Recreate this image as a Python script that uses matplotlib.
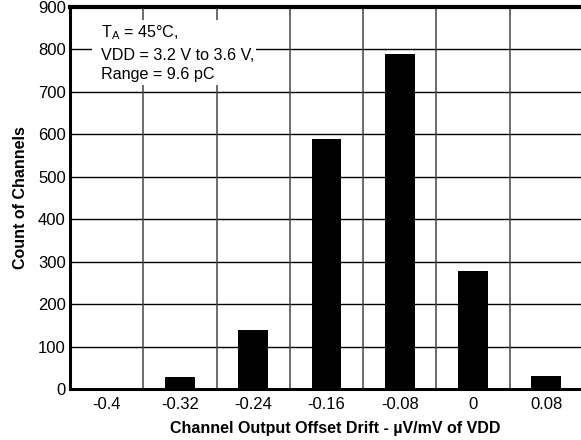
import matplotlib
matplotlib.use("Agg")
import matplotlib.pyplot as plt
from matplotlib.patches import Rectangle

plt.rcParams['font.family'] = ['Liberation Sans', 'DejaVu Sans']

categories = [-0.4, -0.32, -0.24, -0.16, -0.08, 0.0, 0.08]
tick_labels = ["-0.4", "-0.32", "-0.24", "-0.16", "-0.08", "0", "0.08"]
counts = [0, 28, 140, 588, 790, 277, 30]
y_ticks = [0, 100, 200, 300, 400, 500, 600, 700, 800, 900]

W, H = 581, 440
fig = plt.figure(figsize=(W / 100, H / 100), dpi=100)
left, right, top, bottom = 70, 583, 7, 389
ax = fig.add_axes([left / W, 1 - bottom / H, (right - left) / W, (bottom - top) / H])

step = 0.08
ax.set_xlim(categories[0] - step / 2, categories[-1] + step / 2)
ax.set_ylim(0, 900)

# grid
for y in y_ticks[1:]:
    ax.axhline(y, color='black', lw=1.0, zorder=1)
for i in range(len(categories) - 1):
    ax.axvline((categories[i] + categories[i + 1]) / 2, color='#444444', lw=1.1, zorder=1)

ax.bar(categories, counts, width=0.0325, color='black', zorder=3)

ax.set_xticks(categories)
ax.set_xticklabels(tick_labels, fontsize=12)
ax.set_yticks(y_ticks)
ax.set_yticklabels([str(v) for v in y_ticks], fontsize=12)
ax.tick_params(length=0, pad=3)
ax.tick_params(axis='x', pad=6)

for s in ['left', 'bottom']:
    ax.spines[s].set_linewidth(2.2)
ax.spines['top'].set_linewidth(3)
ax.spines['right'].set_visible(False)
for s in ax.spines.values():
    s.set_zorder(5)

ax.set_xlabel("Channel Output Offset Drift - \u00b5V/mV of VDD", fontsize=11.5,
              fontweight='bold', labelpad=6)
ax.xaxis.label.set_x(0.517)
ax.set_ylabel("Count of Channels", fontsize=11.5, fontweight='bold', labelpad=7)

# annotation box (white, covering grid)
bx0, by0, bx1, by1 = 92, 20, 256, 85
ax.add_patch(Rectangle((bx0 / W, 1 - by1 / H), (bx1 - bx0) / W, (by1 - by0) / H,
                       transform=fig.transFigure, facecolor='white', edgecolor='none',
                       zorder=4))
fig.text(101 / W, 1 - 33 / H, r"T$_\mathregular{A}$ = 45°C,", fontsize=11.6,
         va='center', ha='left', zorder=6)
fig.text(101 / W, 1 - 56 / H, "VDD = 3.2 V to 3.6 V,", fontsize=11.6,
         va='center', ha='left', zorder=6)
fig.text(101 / W, 1 - 74 / H, "Range = 9.6 pC", fontsize=11.6,
         va='center', ha='left', zorder=6)

fig.savefig("out.png", dpi=100)
